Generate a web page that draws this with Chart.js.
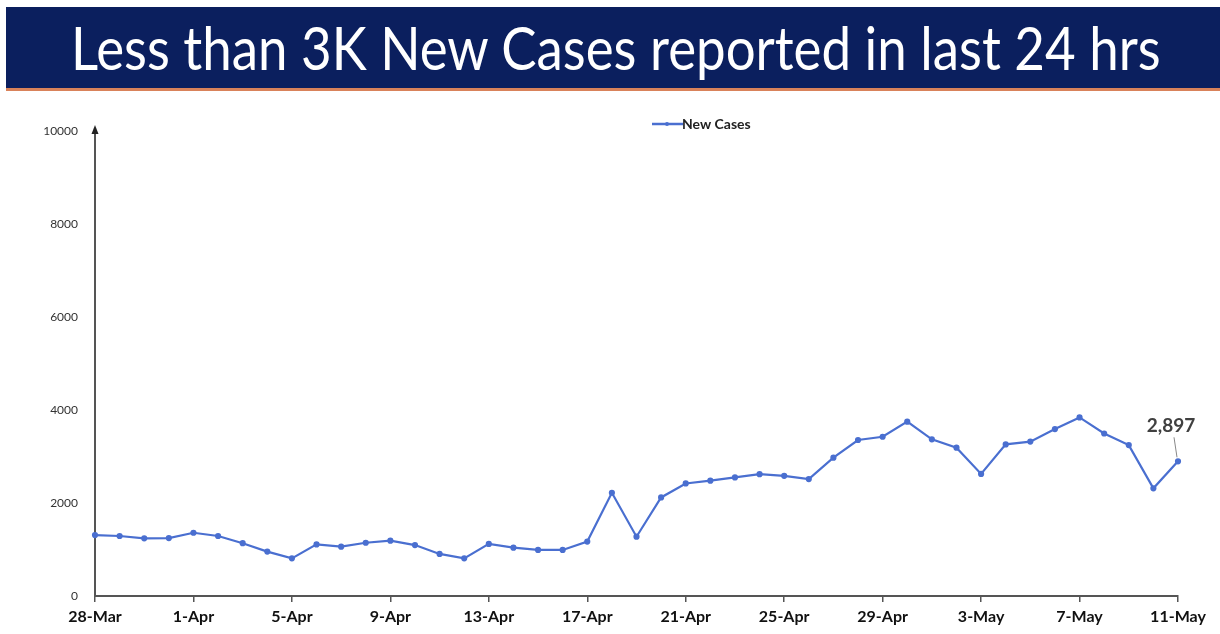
<!DOCTYPE html>
<html>
<head>
<meta charset="utf-8">
<script src="https://cdn.jsdelivr.net/npm/chart.js@4/dist/chart.umd.min.js"></script>
<style>
  html, body { margin: 0; padding: 0; background: #fff; }
  body { width: 1220px; height: 634px; position: relative; overflow: hidden; }
  .banner {
    position: absolute; left: 6px; top: 7px; right: 0; height: 81px;
    background: #0b1f5e;
  }
  #title {
    position: absolute; left: 65px; top: 8px;
    color: #fff; white-space: nowrap;
    font-family: "Lato", "Open Sans", sans-serif; font-size: 60px; line-height: 64px;
    transform-origin: 0 0;
  }
  .orange { position: absolute; left: 6px; right: 0; top: 88px; height: 3px; background: #d9825a; }
  .chartBox { position: absolute; left: 0; top: 95px; width: 1220px; height: 539px; }
</style>
</head>
<body>
<div class="banner"><span id="title">Less than 3K New Cases reported in last 24 hrs</span></div>
<div class="orange"></div>
<div class="chartBox"><canvas id="chart"></canvas></div>

<script>
// dates 28-Mar .. 11-May
const days = [
  "28-Mar", "29-Mar", "30-Mar", "31-Mar",
  "1-Apr", "2-Apr", "3-Apr", "4-Apr", "5-Apr", "6-Apr", "7-Apr", "8-Apr", "9-Apr", "10-Apr",
  "11-Apr", "12-Apr", "13-Apr", "14-Apr", "15-Apr", "16-Apr", "17-Apr", "18-Apr", "19-Apr", "20-Apr",
  "21-Apr", "22-Apr", "23-Apr", "24-Apr", "25-Apr", "26-Apr", "27-Apr", "28-Apr", "29-Apr", "30-Apr",
  "1-May", "2-May", "3-May", "4-May", "5-May", "6-May", "7-May", "8-May", "9-May", "10-May", "11-May"
];

const newCases = [
  1310, 1290, 1240, 1245,
  1360, 1290, 1135, 955, 810, 1110, 1060, 1145, 1190, 1095,
  905, 810, 1120, 1040, 990, 990, 1170, 2220, 1275, 2120,
  2420, 2480, 2550, 2620, 2585, 2515, 2975, 3355, 3425, 3750,
  3370, 3190, 2625, 3260, 3320, 3590, 3840, 3495, 3245, 2315, 2897
];

const yTicks = [0, 2000, 4000, 6000, 8000, 10000];
const lastLabel = "2,897";

const blue = "#4a6fd0";
const axisColor = "#555";

// squeeze the title to the width it has in the slide
const title = document.getElementById("title");
title.style.transform = "scaleX(" + (1090 / title.offsetWidth) + ")";

// arrow on y axis, legend, label for last point
const extras = {
  id: "extras",
  afterDraw(chart) {
    const ctx = chart.ctx;
    const y = chart.scales.y;
    const x = chart.scales.x;
    const ax = chart.chartArea.left;
    const top = y.getPixelForValue(10000);

    ctx.save();
    ctx.fillStyle = "#222";
    ctx.beginPath();
    ctx.moveTo(ax, top - 6);
    ctx.lineTo(ax - 3.5, top + 3);
    ctx.lineTo(ax + 3.5, top + 3);
    ctx.closePath();
    ctx.fill();

    // legend
    ctx.strokeStyle = blue;
    ctx.lineWidth = 2.5;
    ctx.beginPath();
    ctx.moveTo(652, 29);
    ctx.lineTo(683, 29);
    ctx.stroke();
    ctx.fillStyle = blue;
    ctx.beginPath();
    ctx.arc(667, 29, 2, 0, Math.PI * 2);
    ctx.fill();
    ctx.fillStyle = "#222";
    ctx.font = "bold 14px 'Lato', sans-serif";
    ctx.textBaseline = "middle";
    ctx.fillText(chart.data.datasets[0].label, 682, 29);

    // last value callout
    const i = days.length - 1;
    const px = x.getPixelForValue(i);
    const py = y.getPixelForValue(newCases[i]);
    ctx.strokeStyle = "#888";
    ctx.lineWidth = 1;
    ctx.beginPath();
    ctx.moveTo(px - 4, py - 24);
    ctx.lineTo(px - 1, py - 4);
    ctx.stroke();
    ctx.fillStyle = "#404040";
    ctx.font = "bold 19px 'Lato', sans-serif";
    ctx.textAlign = "center";
    ctx.fillText(lastLabel, px - 7, py - 35);
    ctx.restore();
  }
};

new Chart(document.getElementById("chart"), {
  type: "line",
  data: {
    labels: days,
    datasets: [{
      label: "New Cases",
      data: newCases,
      borderColor: blue,
      backgroundColor: blue,
      borderWidth: 2.2,
      pointRadius: 2,
      pointHoverRadius: 2,
      tension: 0
    }]
  },
  options: {
    responsive: true,
    maintainAspectRatio: false,
    animation: false,
    layout: { padding: { top: 36, right: 42, left: 0, bottom: 0 } },
    plugins: {
      legend: { display: false },
      tooltip: { enabled: false }
    },
    scales: {
      x: {
        offset: false,
        grid: {
          drawOnChartArea: false,
          tickLength: 6,
          color: (c) => (c.index % 4 === 0 ? axisColor : "rgba(0,0,0,0)"),
          lineWidth: 1.5
        },
        border: { display: true, color: axisColor, width: 2 },
        ticks: {
          autoSkip: false,
          maxRotation: 0,
          color: "#111",
          font: { family: "'Lato', sans-serif", size: 16, weight: "bold" },
          padding: 5,
          callback: (v, i) => (i % 4 === 0 ? days[i] : "")
        },
        afterFit: (s) => { s.height = 38; }
      },
      y: {
        min: 0,
        max: 10000,
        afterBuildTicks: (s) => { s.ticks = yTicks.map((v) => ({ value: v })); },
        grid: { display: false, drawTicks: false },
        border: { display: true, color: axisColor, width: 2 },
        ticks: {
          color: "#333",
          font: { family: "'Lato', sans-serif", size: 12 },
          padding: 17,
          callback: (v) => String(v)
        },
        afterFit: (s) => { s.width = 95; }
      }
    }
  },
  plugins: [extras]
});
</script>
</body>
</html>
